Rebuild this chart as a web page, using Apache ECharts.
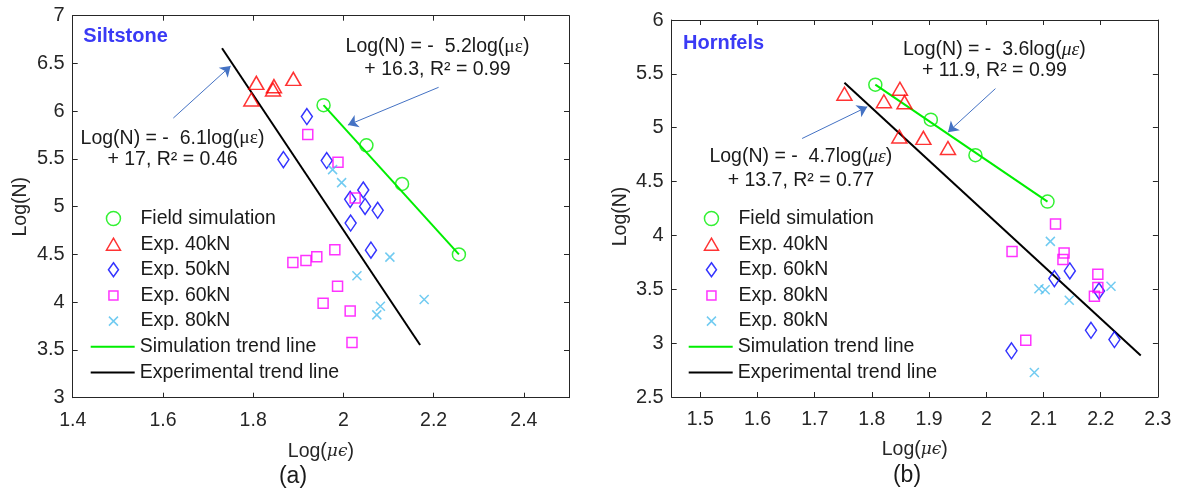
<!DOCTYPE html>
<html>
<head>
<meta charset="utf-8">
<script src="https://cdn.jsdelivr.net/npm/echarts@6/dist/echarts.min.js"></script>
<style>
html,body{margin:0;padding:0;background:#fff;}
#c{width:1179px;height:492px;}
</style>
</head>
<body>
<div id="c"></div>
<script>
// ---------- DATA ----------
// (a) Siltstone
const siltSim      = [[1.956,6.063],[2.051,5.643],[2.130,5.238],[2.256,4.500]];
const siltSimTrend = [[1.956,6.063],[2.256,4.500]];
const siltExpTrend = [[1.731,6.659],[2.170,3.552]];
const silt40 = [[1.807,6.297],[1.796,6.122],[1.846,6.262],[1.844,6.227],[1.889,6.339]];
const silt50 = [[1.919,5.944],[1.867,5.493],[1.963,5.483],[2.044,5.175],[2.015,5.077],[2.048,5.003],[2.076,4.962],[2.016,4.829],[2.061,4.545]];
const silt60 = [[1.921,5.755],[1.988,5.465],[2.026,5.091],[1.888,4.416],[1.917,4.437],[1.941,4.476],[1.981,4.549],[1.987,4.168],[1.955,3.990],[2.015,3.909],[2.019,3.577]];
const silt80 = [[1.976,5.388],[1.996,5.252],[2.103,4.472],[2.030,4.276],[2.179,4.028],[2.082,3.958],[2.074,3.867]];
const siltLegend = ['Field simulation','Exp. 40kN','Exp. 50kN','Exp. 60kN','Exp. 80kN','Simulation trend line','Experimental trend line'];
const siltXTicks = [1.4,1.6,1.8,2.0,2.2,2.4];
const siltYTicks = [3,3.5,4,4.5,5,5.5,6,6.5,7];

// (b) Hornfels
const hornSim      = [[1.806,5.400],[1.903,5.075],[1.981,4.745],[2.107,4.314]];
const hornSimTrend = [[1.806,5.400],[2.107,4.314]];
const hornExpTrend = [[1.752,5.417],[2.270,2.885]];
const horn40 = [[1.752,5.315],[1.821,5.246],[1.849,5.362],[1.857,5.237],[1.848,4.918],[1.890,4.906],[1.933,4.812]];
const horn60 = [[2.146,3.670],[2.119,3.599],[2.197,3.484],[2.183,3.119],[2.224,3.033],[2.044,2.929]];
const horn80a = [[2.121,4.105],[2.136,3.837],[2.134,3.776],[2.195,3.639],[2.195,3.516],[2.189,3.435],[2.069,3.026],[2.045,3.851]];
const horn80b = [[2.112,3.945],[2.092,3.505],[2.103,3.495],[2.145,3.398],[2.218,3.528],[2.084,2.728]];
const hornLegend = ['Field simulation','Exp. 40kN','Exp. 60kN','Exp. 80kN','Exp. 80kN','Simulation trend line','Experimental trend line'];
const hornXTicks = [1.5,1.6,1.7,1.8,1.9,2.0,2.1,2.2,2.3];
const hornYTicks = [2.5,3,3.5,4,4.5,5,5.5,6];

// annotation arrows (data coordinates) [tail, head]
const siltArrowExp = [[1.623,5.928],[1.750,6.473]];
const siltArrowSim = [[2.211,6.250],[2.010,5.855]];
const hornArrowSim = [[2.016,5.363],[1.933,4.959]];
const hornArrowExp = [[1.678,4.900],[1.792,5.194]];

// ---------- STYLE ----------
const FONT = 'Liberation Sans, Arial, sans-serif';
const AX = '#262626';
const C = {sim:'#00ee00', r40:'#ff0000', blue:'#0000ff', mag:'#ff00ff', cyan:'#4dbeee', arrow:'#4472c4'};
const CROSS = 'path://M0,0L10,10M0,10L10,0';
const DIAMOND = 'path://M7,0L12,7L7,14L2,7Z';
// legend icons (14x14 box, padded with move-to corners)
const ICONS = [
  'path://M7,0.5A6.5,6.5,0,1,1,6.99,0.5Z',
  'path://M7,1L14,13L0,13Z M0,0 M14,14',
  DIAMOND,
  'path://M2.5,2.5L11.5,2.5L11.5,11.5L2.5,11.5Z M0,0 M14,14',
  'path://M2.5,2.5L11.5,11.5M2.5,11.5L11.5,2.5 M0,0 M14,14'
];

const chart = echarts.init(document.getElementById('c'), null, {renderer:'canvas'});

function scatter(id, data, gi, symbol, size, color){
  return {id:id, name:id, type:'scatter', xAxisIndex:gi*2, yAxisIndex:gi*2, data:data,
    symbol:symbol, symbolSize:size, z:3,
    itemStyle:{color:'rgba(255,255,255,0)', borderColor:color, borderWidth:1.5}};
}
function trend(id, data, gi, color, arrows){
  const s = {id:id, name:id, type:'line', xAxisIndex:gi*2, yAxisIndex:gi*2, data:data,
    symbol:'none', z:2, lineStyle:{color:color, width:2}, itemStyle:{color:color}};
  if (arrows) {
    s.markLine = {silent:true, symbol:['none','arrow'], symbolSize:10, label:{show:false},
      lineStyle:{color:C.arrow, width:1, type:'solid'},
      data: arrows.map(a => [{coord:a[0]},{coord:a[1]}])};
  }
  return s;
}
function xAxes(gi, min, max, ticks, gap){
  const base = {type:'value', gridIndex:gi, min:min, max:max, splitLine:{show:false},
    axisLine:{show:true, onZero:false, lineStyle:{color:AX, width:1}},
    axisTick:{show:true, inside:true, length:5, customValues:ticks, lineStyle:{color:AX}}};
  return [
    Object.assign({}, base, {position:'bottom',
      axisLabel:{show:true, customValues:ticks, margin:13, color:AX, fontSize:19.5, fontFamily:FONT,
        formatter:v => String(+v.toFixed(2))},
      name:'Log({i|μϵ})', nameLocation:'middle', nameGap:gap,
      nameTextStyle:{color:AX, fontSize:19.5, fontFamily:FONT,
        rich:{i:{fontStyle:'italic', fontFamily:'DejaVu Serif, Liberation Serif, serif', fontSize:17, color:AX}}}}),
    Object.assign({}, base, {position:'top', axisLabel:{show:false}})
  ];
}
function yAxes(gi, min, max, ticks, gap, pad){
  const base = {type:'value', gridIndex:gi, min:min, max:max, splitLine:{show:false},
    axisLine:{show:true, onZero:false, lineStyle:{color:AX, width:1}},
    axisTick:{show:true, inside:true, length:5, customValues:ticks, lineStyle:{color:AX}}};
  return [
    Object.assign({}, base, {position:'left',
      axisLabel:{show:true, customValues:ticks, margin:8, color:AX, fontSize:20, fontFamily:FONT,
        formatter:v => String(+v.toFixed(2))},
      name:'Log(N)', nameLocation:'middle', nameGap:gap,
      nameTextStyle:{color:AX, fontSize:19.5, fontFamily:FONT, padding:pad}}),
    Object.assign({}, base, {position:'right', axisLabel:{show:false}})
  ];
}

const silts = [
  scatter('L0', siltSim, 0, 'circle', 13, C.sim),
  scatter('L1', silt40, 0, 'triangle', [15,13], C.r40),
  scatter('L2', silt50, 0, DIAMOND, [11,16], C.blue),
  scatter('L3', silt60, 0, 'rect', 10, C.mag),
  scatter('L4', silt80, 0, CROSS, 9, C.cyan),
  trend('L5', siltSimTrend, 0, C.sim, [siltArrowSim]),
  trend('L6', siltExpTrend, 0, '#000000', [siltArrowExp])
];
const horns = [
  scatter('R0', hornSim, 1, 'circle', 13, C.sim),
  scatter('R1', horn40, 1, 'triangle', [15,13], C.r40),
  scatter('R2', horn60, 1, DIAMOND, [11,16], C.blue),
  scatter('R3', horn80a, 1, 'rect', 10, C.mag),
  scatter('R4', horn80b, 1, CROSS, 9, C.cyan),
  trend('R5', hornSimTrend, 1, C.sim, [hornArrowSim]),
  trend('R6', hornExpTrend, 1, '#000000', [hornArrowExp])
];

const ROW = 25.65;
function legends(prefix, labels, lineLeft, top){
  const txt = {color:'#1a1a1a', fontSize:19.5, fontFamily:FONT, lineHeight:20};
  const markerLeft = lineLeft + 22 - 7;
  return [
    {show:true, orient:'vertical', left:markerLeft, top:top, padding:0, itemGap:ROW-20,
      itemWidth:14, itemHeight:14, selectedMode:false,
      itemStyle:{borderWidth:1.5},
      data:[0,1,2,3,4].map(i => ({name:prefix + i, icon:ICONS[i]})),
      formatter:n => labels[+n.slice(1)],
      textStyle:Object.assign({padding:[0,0,0,lineLeft + 49 - (markerLeft + 19)]}, txt)},
    {show:true, orient:'vertical', left:lineLeft, top:top + 5*ROW, padding:0, itemGap:ROW-20,
      itemWidth:44, itemHeight:2, selectedMode:false, icon:'rect',
      data:[5,6].map(i => prefix + i),
      formatter:n => labels[+n.slice(1)],
      textStyle:txt}
  ];
}

function txt(x, y, text, rich){
  return {type:'text', x:x, y:y, silent:true, z:10,
    style:{text:text, x:0, y:0, align:'center', verticalAlign:'middle', fill:'#1a1a1a',
      font:'19.5px ' + FONT, rich:rich}};
}
const richUp = {g:{fontFamily:'Liberation Serif, serif', fontSize:19.5, fill:'#1a1a1a'}};
const richIt = {g:{fontFamily:'Liberation Serif, serif', fontStyle:'italic', fontSize:19.5, fill:'#1a1a1a'}};

const option = {
  animation:false,
  backgroundColor:'#ffffff',
  grid:[
    {left:72.7, top:15.7, width:496.3, height:382},
    {left:671.7, top:20, width:486.2, height:377}
  ],
  xAxis:[].concat(xAxes(0, 1.4, 2.5, siltXTicks, 44), xAxes(1, 1.45, 2.3, hornXTicks, 43)),
  yAxis:[].concat(yAxes(0, 3, 7, siltYTicks, 42, [0,0,0,0]), yAxes(1, 2.5, 6, hornYTicks, 41, [0,16,0,0])),
  legend:[].concat(legends('L', siltLegend, 90.7, 208.5), legends('R', hornLegend, 688.7, 208.5)),
  series: silts.concat(horns),
  graphic:[
    {type:'text', left:83.3, top:26, silent:true, style:{text:'Siltstone', fill:'#3a3af5', font:'bold 20px ' + FONT}},
    {type:'text', left:683, top:33, silent:true, style:{text:'Hornfels', fill:'#3a3af5', font:'bold 20px ' + FONT}},
    txt(437.5, 46.7, 'Log(N) = -  5.2log({g|με})', richUp),
    txt(437.5, 70, '+ 16.3, R² = 0.99', richUp),
    txt(172.5, 138.3, 'Log(N) = -  6.1log({g|με})', richUp),
    txt(172.5, 160, '+ 17, R² = 0.46', richUp),
    txt(994.4, 49.4, 'Log(N) = -  3.6log({g|με})', richIt),
    txt(994.4, 71.1, '+ 11.9, R² = 0.99', richIt),
    txt(800.8, 157, 'Log(N) = -  4.7log({g|με})', richIt),
    txt(800.8, 180.5, '+ 13.7, R² = 0.77', richIt),
    {type:'text', x:293, y:477, silent:true, style:{text:'(a)', x:0, y:0, align:'center', verticalAlign:'middle', fill:'#1a1a1a', font:'23px ' + FONT}},
    {type:'text', x:907, y:476, silent:true, style:{text:'(b)', x:0, y:0, align:'center', verticalAlign:'middle', fill:'#1a1a1a', font:'23px ' + FONT}}
  ]
};
chart.setOption(option);
</script>
</body>
</html>
